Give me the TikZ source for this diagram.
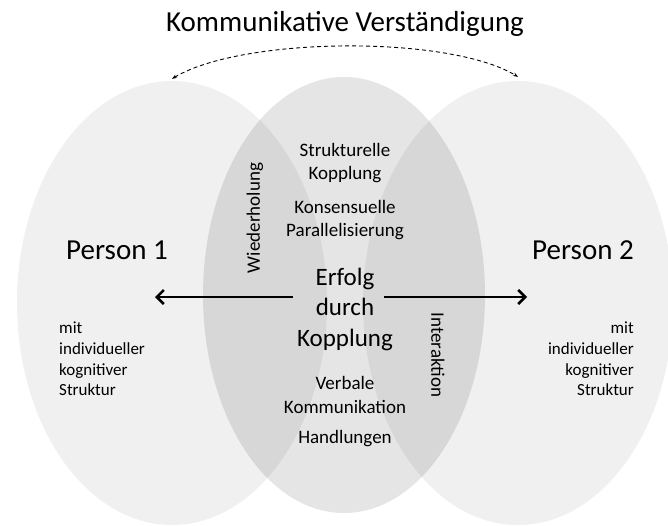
\documentclass[tikz,border=0pt]{standalone}
\usepackage{fontspec}
\setmainfont{Carlito}
\usetikzlibrary{shapes.geometric,arrows.meta}
\tikzset{
  person/.style={ellipse, fill=black!6, inner sep=0pt, minimum width=310pt, minimum height=444pt},
  kopplung/.style={ellipse, fill=black, fill opacity=0.1, inner sep=0pt, minimum width=282pt, minimum height=436pt},
  big/.style={font=\fontsize{29}{35}\selectfont, inner sep=0pt},
  small/.style={font=\fontsize{17}{20.7}\selectfont, inner sep=0pt},
  mid/.style={align=center, font=\fontsize{19}{23.3}\selectfont, inner sep=0pt},
  bigarrow/.style={-{Straight Barb[length=7pt,width=14pt]}, line width=2.5pt},
  dasharrow/.style={dash pattern=on 4pt off 3pt, line width=0.9pt, {Stealth[length=5pt]}-{Stealth[length=5pt]}},
}
\begin{document}
\begin{tikzpicture}[x=1pt, y=-1pt]
  \useasboundingbox (0,0) rectangle (668,525);
  \node[person] (p1) at (172,303) {};
  \node[person] (p2) at (518,303) {};
  \node[kopplung] (k) at (344,295) {};

  \node[big] (title) at (345,24) {Kommunikative Verständigung};
  \draw[dasharrow] ([yshift=2pt]p1.north) .. controls +(70,-42) and +(-70,-42) .. ([yshift=4pt]p2.north);

  \node[big] (n1) at (117,250) {Person 1};
  \node[big] (n2) at (583,250) {Person 2};
  \node[small, align=left, anchor=west] (s1) at (59,359) {mit\\individueller\\kognitiver\\Struktur};
  \node[small, align=right, anchor=east] (s2) at (634,359) {mit\\individueller\\kognitiver\\Struktur};

  \node[mid] (m1) at (345,163) {Strukturelle\\Kopplung};
  \node[mid] (m2) at (345,220) {Konsensuelle\\Parallelisierung};
  \node[mid, font=\fontsize{25}{30.5}\selectfont] (erfolg) at (345,309) {Erfolg\\durch\\Kopplung};
  \node[mid] (m3) at (345,395) {Verbale\\Kommunikation};
  \node[mid] (m4) at (345,439) {Handlungen};
  \node[mid, rotate=90] (w) at (255,218) {Wiederholung};
  \node[mid, rotate=-90] (i) at (438,355) {Interaktion};

  \coordinate (a1) at (293,297);
  \coordinate (t1) at (155,297);
  \coordinate (a2) at (384,297);
  \coordinate (t2) at (527,297);
  \draw[bigarrow] (a1) -- (t1);
  \draw[bigarrow] (a2) -- (t2);
\end{tikzpicture}
\end{document}
